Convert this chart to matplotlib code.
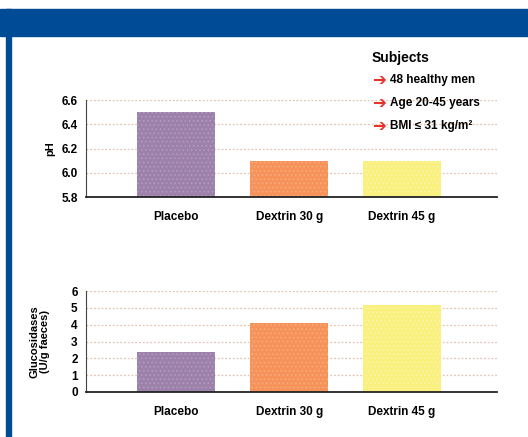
import matplotlib
matplotlib.use('Agg')
import matplotlib.pyplot as plt
from matplotlib.patches import Rectangle

plt.rcParams['font.family'] = ['Liberation Sans Narrow', 'Liberation Sans', 'DejaVu Sans']
plt.rcParams['font.weight'] = 'bold'
plt.rcParams['hatch.linewidth'] = 0.6

groups = ['Placebo', 'Dextrin 30 g', 'Dextrin 45 g']
ph_values = [6.5, 6.1, 6.1]
glucosidase_values = [2.4, 4.1, 5.2]
ph_ticks = [5.8, 6.0, 6.2, 6.4, 6.6]
glucosidase_ticks = [0, 1, 2, 3, 4, 5, 6]
subject_notes = ['48 healthy men', 'Age 20-45 years', 'BMI \u2264 31 kg/m\u00b2']

bar_colors = ['#9c82aa', '#f6935a', '#f9f07e']
hatch_colors = ['#b79cc0', '#f8ad80', '#fbf5b0']
BLUE = '#004b96'

fig = plt.figure(figsize=(5.28, 4.37), dpi=100)

# blue header band and left border
fig.patches.append(Rectangle((0, 0.918), 1, 0.061, transform=fig.transFigure,
                             color=BLUE, zorder=0))
fig.patches.append(Rectangle((0.011, 0), 0.010, 0.979, transform=fig.transFigure,
                             color=BLUE, zorder=0))


def draw_panel(ax, values, ticks, ylabel, fmt):
    x = range(len(groups))
    bars = ax.bar(x, [v - ticks[0] for v in values], bottom=ticks[0], width=0.69,
                  color=bar_colors, zorder=2)
    for b, hc in zip(bars, hatch_colors):
        b.set_hatch('....')
        b.set_edgecolor(hc)
        b.set_linewidth(0)
    ax.set_xlim(-0.8, 2.84)
    ax.set_ylim(ticks[0], ticks[-1])
    ax.set_yticks(ticks)
    ax.set_yticklabels([fmt.format(t) for t in ticks], fontsize=8.5, fontweight='bold')
    ax.set_xticks(list(x))
    ax.set_xticklabels(groups, fontsize=8.5, fontweight='bold')
    ax.tick_params(length=0, pad=6)
    ax.tick_params(axis='x', pad=10)
    for t in ticks[1:]:
        ax.axhline(t, color='#e3c4b4', lw=0.9, ls=(0, (1.5, 1.5)), zorder=1)
    for side in ['top', 'right']:
        ax.spines[side].set_visible(False)
    ax.spines['left'].set_color('#444444')
    ax.spines['left'].set_linewidth(0.8)
    ax.spines['bottom'].set_color('#222222')
    ax.spines['bottom'].set_linewidth(1.3)
    ax.spines['bottom'].set_zorder(3)
    ax.set_ylabel(ylabel, fontsize=8, fontweight='bold', linespacing=1.1)


ax1 = fig.add_axes([0.163, 0.549, 0.778, 0.222])
draw_panel(ax1, ph_values, ph_ticks, 'pH', '{:.1f}')
ax1.yaxis.set_label_coords(-0.076, 0.5)

ax2 = fig.add_axes([0.163, 0.103, 0.778, 0.231])
draw_panel(ax2, glucosidase_values, glucosidase_ticks, 'Glucosidases\n(U/g faeces)', '{:d}')
ax2.yaxis.set_label_coords(-0.088, 0.5)

# subject info box
fig.text(0.703, 0.868, 'Subjects', fontsize=10, fontweight='bold', va='center')
for i, note in enumerate(subject_notes):
    yy = 0.817 - i * 0.053
    fig.text(0.704, yy, '\u2794', color='#e8332a', fontsize=12, va='center',
             family='DejaVu Sans')
    fig.text(0.738, yy, note, fontsize=8.5, fontweight='bold', va='center')

plt.savefig('out.png', dpi=100)
